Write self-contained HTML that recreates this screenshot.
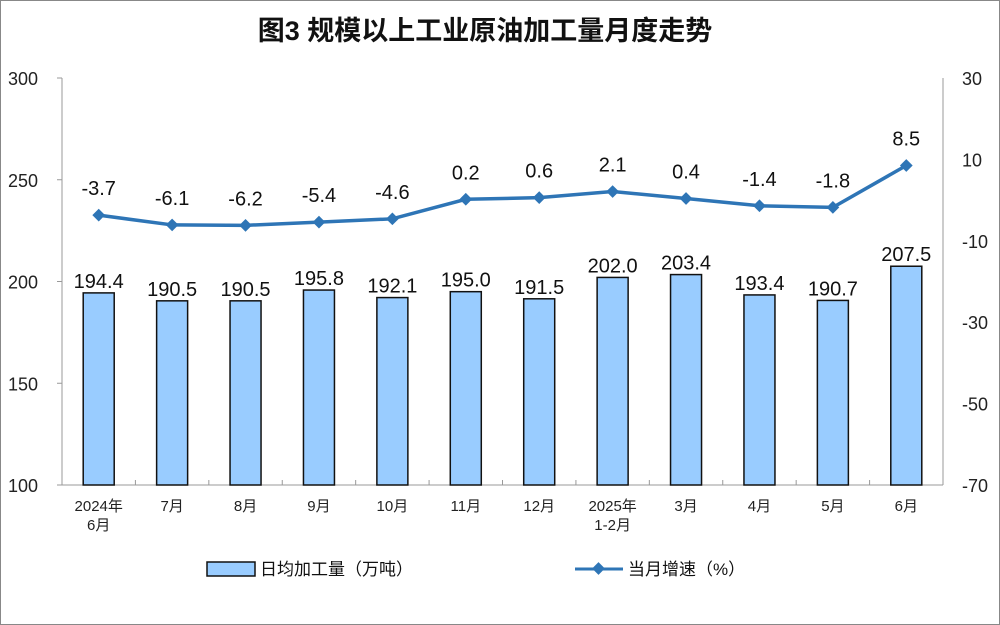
<!DOCTYPE html>
<html><head><meta charset="utf-8"><style>
body{margin:0;background:#fff}
svg{display:block;font-family:"Liberation Sans","Noto Sans CJK SC",sans-serif}
</style></head><body>
<svg width="1000" height="625" viewBox="0 0 1000 625" xmlns="http://www.w3.org/2000/svg">
<rect x="0.5" y="0.5" width="999" height="624" fill="#fff" stroke="#888"/>
<text x="485" y="40" text-anchor="middle" font-size="27" font-weight="bold" fill="#111">图3  规模以上工业原油加工量月度走势</text>
<g id="axes"></g>
<g id="bars"></g>
<g id="line"></g>
<g>
<rect x="207" y="562" width="48" height="14" fill="#99ccff" stroke="#111" stroke-width="1.5"/>
<text x="260" y="575" font-size="17" fill="#111">日均加工量（万吨）</text>
<line x1="575" y1="569" x2="623" y2="569" stroke="#2e75b6" stroke-width="3"/>
<rect x="594" y="564" width="9" height="9" fill="#2e75b6" transform="rotate(45 598.5 568.5)"/>
<text x="628" y="575" font-size="17" fill="#111">当月增速（%）</text>
</g>
</svg>
<script>
const categories=[["2024年","6月"],["7月"],["8月"],["9月"],["10月"],["11月"],["12月"],["2025年","1-2月"],["3月"],["4月"],["5月"],["6月"]];
const output=[194.4,190.5,190.5,195.8,192.1,195.0,191.5,202.0,203.4,193.4,190.7,207.5];
const growth=[-3.7,-6.1,-6.2,-5.4,-4.6,0.2,0.6,2.1,0.4,-1.4,-1.8,8.5];
const leftTicks=[100,150,200,250,300];
const rightTicks=[-70,-50,-30,-10,10,30];
const NS="http://www.w3.org/2000/svg";
const X0=62,X1=943,YT=78,YB=485;
const step=(X1-X0)/categories.length;
const xc=i=>X0+step*(i+0.5);
const yL=v=>YB-(v-100)/200*(YB-YT);
const yR=v=>YB-(v+70)/100*(YB-YT);
function mk(tag,attrs,parent,text){const e=document.createElementNS(NS,tag);for(const k in attrs)e.setAttribute(k,attrs[k]);if(text!==undefined)e.textContent=text;parent.appendChild(e);return e;}
const axes=document.getElementById('axes'),bars=document.getElementById('bars'),line=document.getElementById('line');
let e;
e=mk('line',{x1:X0,y1:YT,x2:X0,y2:YB,stroke:'#999'},axes);


e=mk('line',{x1:X1,y1:YT,x2:X1,y2:YB,stroke:'#999'},axes);


e=mk('line',{x1:X0,y1:YB,x2:X1,y2:YB,stroke:'#999'},axes);


leftTicks.forEach(v=>{const y=yL(v);
mk('line',{x1:X0-5,y1:y,x2:X0,y2:y,stroke:'#999'},axes);
e=mk('text',{x:38,y:y+7,'text-anchor':'end','font-size':18,fill:'#222'},axes,v);

});
rightTicks.forEach(v=>{const y=yR(v);
e=mk('text',{x:962,y:y+7,'text-anchor':'start','font-size':18,fill:'#222'},axes,v);

});
for(let i=0;i<=categories.length;i++){const x=X0+step*i;mk('line',{x1:x,y1:YB,x2:x,y2:YB-5,stroke:'#999'},axes);}
categories.forEach((c,i)=>{c.forEach((t,j)=>{
e=mk('text',{x:xc(i),y:511+j*19,'text-anchor':'middle','font-size':15,fill:'#222'},axes,t);

});});
output.forEach((v,i)=>{const y=yL(v);
e=mk('rect',{x:xc(i)-15.5,y:y,width:31,height:YB-y,fill:'#99ccff',stroke:'#111','stroke-width':1.5},bars);


e=mk('text',{x:xc(i),y:y-5,'text-anchor':'middle','font-size':20,fill:'#111'},bars,v.toFixed(1));

});
e=mk('polyline',{points:growth.map((v,i)=>xc(i)+','+yR(v)).join(' '),fill:'none',stroke:'#2e75b6','stroke-width':3.5},line);


growth.forEach((v,i)=>{const x=xc(i),y=yR(v);
e=mk('rect',{x:x-4.5,y:y-4.5,width:9,height:9,fill:'#2e75b6',transform:`rotate(45 ${x} ${y})`},line);


e=mk('text',{x:x,y:y-20,'text-anchor':'middle','font-size':20,fill:'#111'},line,v.toFixed(1));

});
</script>
</body></html>
